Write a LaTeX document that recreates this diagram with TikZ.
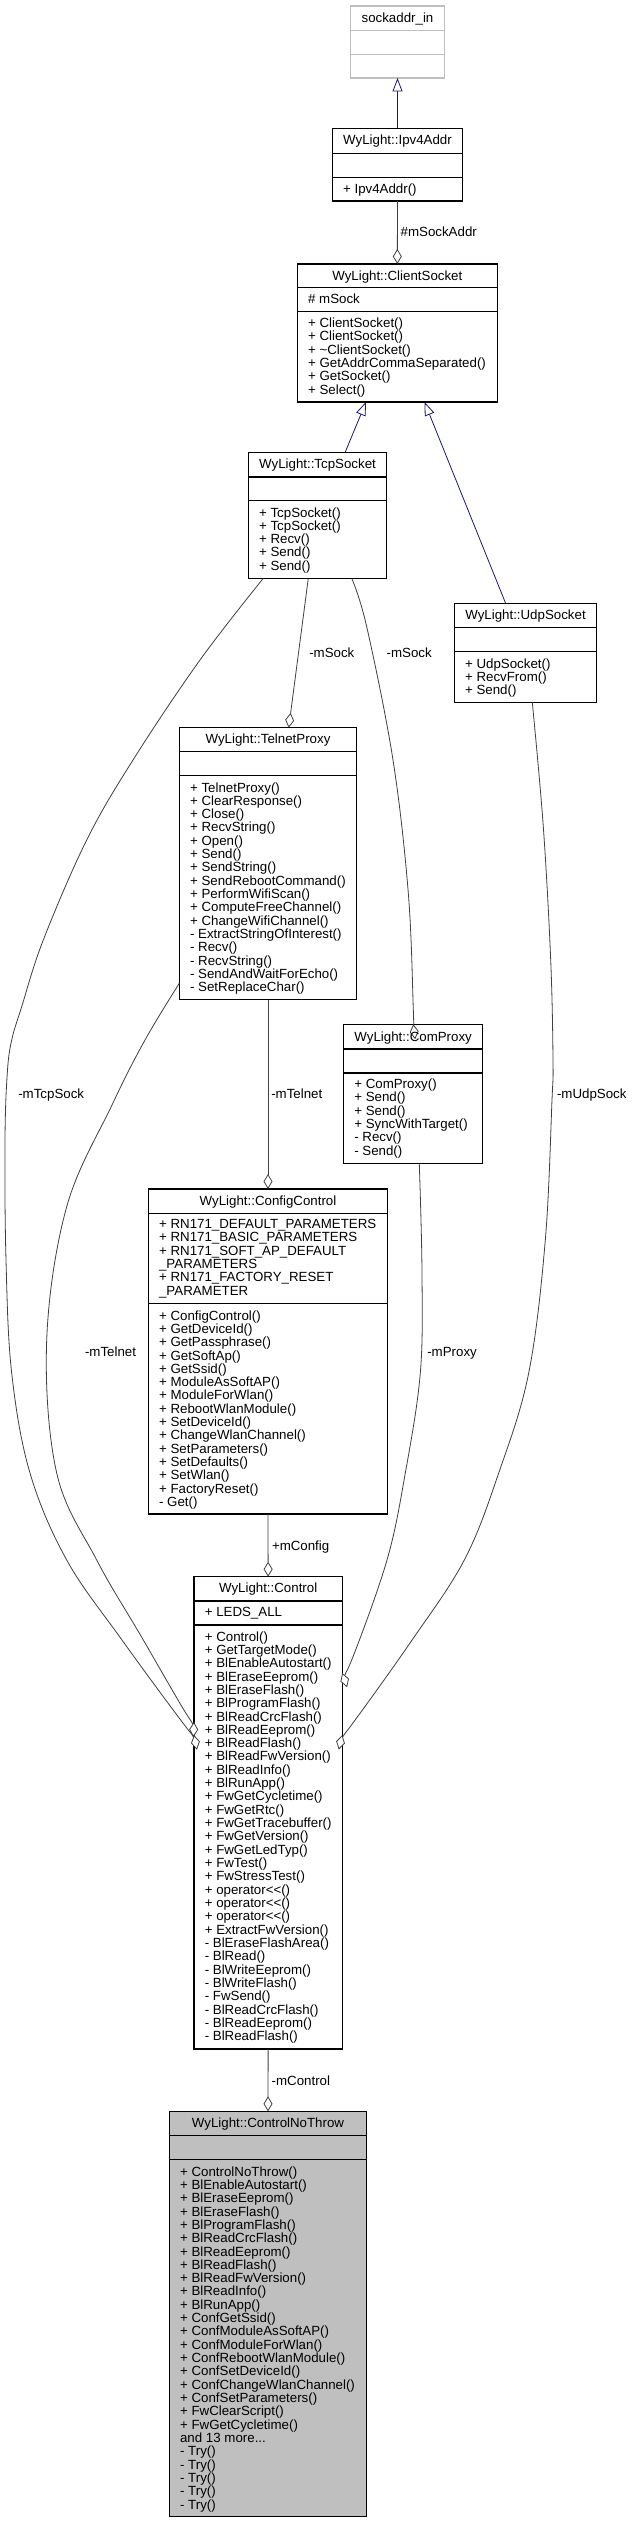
\documentclass[tikz,border=0pt]{standalone}
\usepackage{fontspec}
\setmainfont{Liberation Sans}
\usetikzlibrary{arrows.meta}
\definecolor{edgegray}{HTML}{404040}
\definecolor{inhblue}{HTML}{191970}
\definecolor{nothrowfill}{HTML}{BFBFBF}
\definecolor{undocgray}{HTML}{BFBFBF}

\newcommand\threedots{...}
% #1 name, #2 L, #3 T, #4 R, #5 B, #6 first rule, #7 second rule, #8 extra style
\newcommand\umlclass[8]{%
  \node[classbox,#8,minimum width={(#4)-(#2)},minimum height={(#5)-(#3)}] (#1) at ({((#2)+(#4))/2},{((#3)+(#5))/2}) {};
  \draw[classrule,#8] (#1.west |- 0,#6) -- (#1.east |- 0,#6) (#1.west |- 0,#7) -- (#1.east |- 0,#7);
}
% #1 name, #2 baseline, #3 text
\newcommand\umltitle[3]{%
  \node[lbl,anchor=base] (#1-title) at (#1.north |- 0,#2) {#3};
}
% #1 prefix, #2 x, #3 first baseline, #4 list
\newcommand\umllines[4]{%
  \foreach \mytext [count=\i from 0] in {#4} {\node[lbl,anchor=base west] (#1\i) at (#2,{#3+\i*13.33}) {\mytext};}
}

\begin{document}
\begin{tikzpicture}[x=1pt,y=-1pt,
  font=\fontsize{13.3}{13.33}\selectfont,
  classbox/.style={draw=black,line width=1.1pt,fill=white,inner sep=0pt,outer sep=0pt,rectangle},
  classrule/.style={draw=black,line width=1.1pt},
  lbl/.style={inner sep=0pt,outer sep=0pt,text=black},
  edgelbl/.style={lbl,anchor=base west},
  agg/.style={draw=edgegray,line width=0.8pt,-{Diamond[length=15pt,width=9pt,fill=white]}},
  inh/.style={draw=inhblue,line width=0.8pt,-{Triangle[length=13.5pt,width=10pt,fill=white]}}]

\fill[white] (0,0) rectangle (632,2523);
\useasboundingbox (0,0) rectangle (632,2523);

% ---------- class boxes ----------
\umlclass{sock}{350.7}{6}{444.3}{78}{30.7}{54.3}{draw=undocgray}
\umlclass{ipv4}{332.3}{128.3}{462.7}{201}{153.3}{177.3}{}
\umlclass{client}{297.3}{264}{497.3}{402}{287.3}{311.7}{}
\umlclass{tcp}{248.3}{452.7}{386.7}{578.3}{477}{500.7}{}
\umlclass{udp}{454.3}{603.5}{596.7}{702.3}{627.7}{651.7}{}
\umlclass{telnet}{179.3}{727.7}{356.7}{999.7}{751.7}{775.7}{}
\umlclass{comproxy}{343.5}{1024.3}{482.8}{1163.7}{1049}{1073}{}
\umlclass{config}{148.3}{1189}{387.7}{1514}{1213.3}{1303.7}{}
\umlclass{control}{194}{1576.7}{342.3}{2049}{1601}{1625}{}
\umlclass{cnt}{169.3}{2111.3}{366.7}{2516.7}{2135.7}{2159.3}{fill=nothrowfill}

% ---------- connectors ----------
\draw[inh] (ipv4.north) -- (sock.south);
\draw[inh] (tcp.north -| 345,0) -- (client.south -| 366,0);
\draw[inh] (udp.north -| 505.7,0) -- (client.south -| 424.5,0);

\draw[agg] (ipv4.south) -- (client.north);
\draw[agg] (tcp.south -| 308.3,0) -- (telnet.north -| 288.7,0);
\draw[agg] plot[smooth,tension=0.6] coordinates {(tcp.south -| 351.7,0) (366.7,626.7) (393,760) (408.3,893) (413.3,1009.3) (comproxy.north -| 413.3,0)};
\draw[agg] plot[smooth,tension=0.6] coordinates {(tcp.south -| 263.3,0) (200,660) (133,760) (86.7,840) (43.3,940) (21.7,1006.7) (11.7,1040) (7.3,1073) (5,1140) (6,1260) (11.7,1373) (30,1473) (66.7,1560) (122,1640) (182.7,1722.7) (control.west |- 0,1735)};
\draw[agg] plot[smooth,tension=0.6] coordinates {(telnet.west |- 0,983.3) (145,1040) (112,1105) (66.7,1206.7) (46.7,1340) (56.7,1473) (96.7,1560) (141,1636) (185,1711.7) (control.west |- 0,1722)};
\draw[agg] (telnet.south) -- (config.north);
\draw[agg] plot[smooth,tension=0.6] coordinates {(comproxy.south -| 419.3,0) (422,1273) (420.3,1373) (405.3,1473) (387,1560) (351.7,1660) (control.east |- 0,1673)};
\draw[agg] plot[smooth,tension=0.6] coordinates {(udp.south -| 532.3,0) (543.3,826.7) (550.7,960) (553,1060) (552,1100) (545.3,1240) (528.7,1373) (498.7,1473) (464.3,1560) (410,1643) (352.7,1723.3) (control.east |- 0,1735)};
\draw[agg] (config.south) -- (control.north);
\draw[agg] (control.south) -- (cnt.north);

% ---------- connector labels ----------
\node[edgelbl] (l-sockaddr) at (400.7,236.6) {\#mSockAddr};
\node[edgelbl] (l-msock1) at (309.3,657) {-mSock};
\node[edgelbl] (l-msock2) at (386.7,657) {-mSock};
\node[edgelbl] (l-tcpsock) at (18.3,1098.6) {-mTcpSock};
\node[edgelbl] (l-udpsock) at (557,1098.6) {-mUdpSock};
\node[edgelbl] (l-telnet1) at (271.3,1098.6) {-mTelnet};
\node[edgelbl] (l-telnet2) at (85,1356) {-mTelnet};
\node[edgelbl] (l-proxy) at (427.3,1356) {-mProxy};
\node[edgelbl] (l-config) at (272,1550) {+mConfig};
\node[edgelbl] (l-control) at (271.7,2085) {-mControl};

% ---------- class texts ----------
\umltitle{sock}{22.6}{sockaddr\_in}

\umltitle{ipv4}{145}{WyLight::Ipv4Addr}
\umllines{ipv4m}{343.1}{193.3}{+ Ipv4Addr()}

\umltitle{client}{280}{WyLight::ClientSocket}
\umllines{clienta}{308.1}{303.6}{\# mSock}
\umllines{clientm}{308.1}{327.6}{+ ClientSocket(),+ ClientSocket(),+ \textasciitilde ClientSocket(),+ GetAddrCommaSeparated(),+ GetSocket(),+ Select()}

\umltitle{tcp}{468.6}{WyLight::TcpSocket}
\umllines{tcpm}{259.1}{517}{+ TcpSocket(),+ TcpSocket(),+ Recv(),+ Send(),+ Send()}

\umltitle{udp}{619.3}{WyLight::UdpSocket}
\umllines{udpm}{465.1}{668}{+ UdpSocket(),+ RecvFrom(),+ Send()}

\umltitle{telnet}{743.6}{WyLight::TelnetProxy}
\umllines{telnetm}{190.1}{792}{+ TelnetProxy(),+ ClearResponse(),+ Close(),+ RecvString(),+ Open(),+ Send(),+ SendString(),+ SendRebootCommand(),+ PerformWifiScan(),+ ComputeFreeChannel(),+ ChangeWifiChannel(),- ExtractStringOfInterest(),- Recv(),- RecvString(),- SendAndWaitForEcho(),- SetReplaceChar()}

\umltitle{comproxy}{1041}{WyLight::ComProxy}
\umllines{comproxym}{354.3}{1088.6}{+ ComProxy(),+ Send(),+ Send(),+ SyncWithTarget(),- Recv(),- Send()}

\umltitle{config}{1205}{WyLight::ConfigControl}
\umllines{configa}{159.1}{1228.6}{+ RN171\_DEFAULT\_PARAMETERS,+ RN171\_BASIC\_PARAMETERS,+ RN171\_SOFT\_AP\_DEFAULT,\_PARAMETERS,+ RN171\_FACTORY\_RESET,\_PARAMETER}
\umllines{configm}{159.1}{1320}{+ ConfigControl(),+ GetDeviceId(),+ GetPassphrase(),+ GetSoftAp(),+ GetSsid(),+ ModuleAsSoftAP(),+ ModuleForWlan(),+ RebootWlanModule(),+ SetDeviceId(),+ ChangeWlanChannel(),+ SetParameters(),+ SetDefaults(),+ SetWlan(),+ FactoryReset(),- Get()}

\umltitle{control}{1592.6}{WyLight::Control}
\umllines{controla}{204.8}{1616.6}{+ LEDS\_ALL}
\umllines{controlm}{204.8}{1641}{+ Control(),+ GetTargetMode(),+ BlEnableAutostart(),+ BlEraseEeprom(),+ BlEraseFlash(),+ BlProgramFlash(),+ BlReadCrcFlash(),+ BlReadEeprom(),+ BlReadFlash(),+ BlReadFwVersion(),+ BlReadInfo(),+ BlRunApp(),+ FwGetCycletime(),+ FwGetRtc(),+ FwGetTracebuffer(),+ FwGetVersion(),+ FwGetLedTyp(),+ FwTest(),+ FwStressTest(),+ operator<{}<(),+ operator<{}<(),+ operator<{}<(),+ ExtractFwVersion(),- BlEraseFlashArea(),- BlRead(),- BlWriteEeprom(),- BlWriteFlash(),- FwSend(),- BlReadCrcFlash(),- BlReadEeprom(),- BlReadFlash()}

\umltitle{cnt}{2127.6}{WyLight::ControlNoThrow}
\umllines{cntm}{180.1}{2176}{+ ControlNoThrow(),+ BlEnableAutostart(),+ BlEraseEeprom(),+ BlEraseFlash(),+ BlProgramFlash(),+ BlReadCrcFlash(),+ BlReadEeprom(),+ BlReadFlash(),+ BlReadFwVersion(),+ BlReadInfo(),+ BlRunApp(),+ ConfGetSsid(),+ ConfModuleAsSoftAP(),+ ConfModuleForWlan(),+ ConfRebootWlanModule(),+ ConfSetDeviceId(),+ ConfChangeWlanChannel(),+ ConfSetParameters(),+ FwClearScript(),+ FwGetCycletime(),and 13 more\threedots,- Try(),- Try(),- Try(),- Try(),- Try()}

\end{tikzpicture}
\end{document}
